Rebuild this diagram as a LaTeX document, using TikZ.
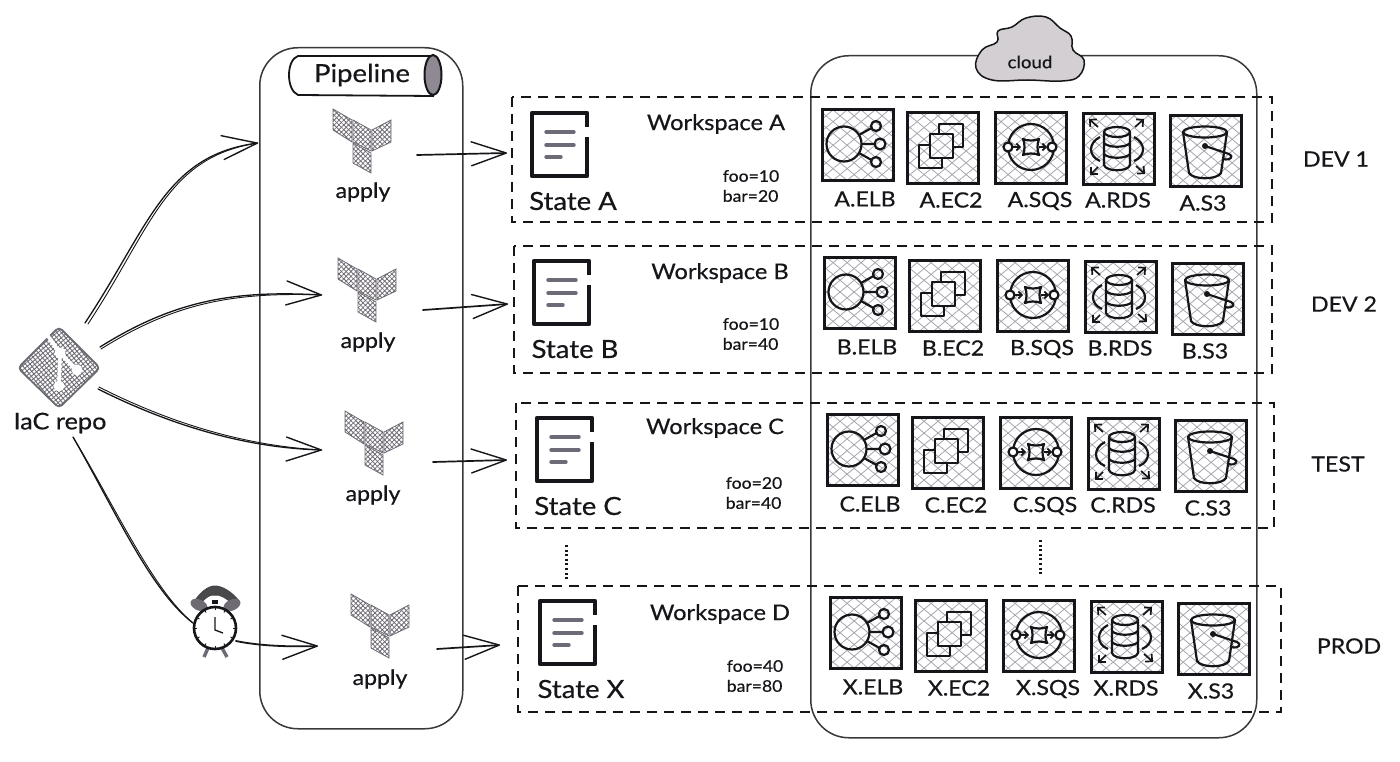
\documentclass[tikz,border=0pt]{standalone}
\usepackage{fontspec}
\setmainfont{Lato}[RawFeature={embolden=0.5},FakeStretch=1.1]
\usetikzlibrary{arrows.meta,patterns.meta,bending}
\definecolor{ink}{HTML}{16161A}
\definecolor{hatchc}{HTML}{A8A4AD}
\definecolor{logoc}{HTML}{6F6B74}
\definecolor{cloudc}{HTML}{D3CFD3}
\definecolor{cylc}{HTML}{8E8993}
\definecolor{statel}{HTML}{6E6A78}
\tikzset{
  txt/.style={inner sep=0pt,text=ink,font=\fontsize{21}{23}\selectfont},
  wstxt/.style={txt,font=\fontsize{21.5}{23}\selectfont},
  statetxt/.style={txt,font=\fontsize{25}{27}\selectfont},
  small/.style={inner sep=0pt,text=ink,align=left,font=\fontsize{16}{20}\selectfont},
  container/.style={draw=ink!85,line width=1.5pt,rounded corners=38pt},
  dashbox/.style={draw=ink,line width=1.2pt,dash pattern=on 10pt off 7pt},
  hatchbox/.style={draw=ink,line width=2.7pt,anchor=north west,minimum width=71pt,minimum height=71pt,inner sep=0pt,
    preaction={pattern={Lines[angle=40,distance=9pt,line width=.8pt]},pattern color=hatchc},
    preaction={pattern={Lines[angle=-40,distance=9pt,line width=.8pt]},pattern color=hatchc}},
  ico/.style={draw=ink,line width=2.2pt,line join=round},
  conn/.style={draw=ink,line width=1.3pt,line cap=round,-{Straight Barb[length=35pt,width=24pt,line width=1.4pt,round]}},
  sketch/.style={draw=ink,line width=.9pt,line cap=round},
  tffill/.style={draw=logoc,line width=.8pt,
    preaction={pattern={Lines[angle=45,distance=3.4pt,line width=.8pt]},pattern color=logoc},
    preaction={pattern={Lines[angle=-45,distance=3.4pt,line width=.8pt]},pattern color=logoc}},
  gitfill/.style={draw=logoc,line width=1.8pt,line join=round,
    preaction={pattern={Lines[angle=40,distance=3.4pt,line width=.9pt]},pattern color=logoc},
    preaction={pattern={Lines[angle=-50,distance=3.4pt,line width=.9pt]},pattern color=logoc}},
}
\newcommand{\tflogo}[3]{% name, x, y
  \begin{scope}[shift={(#2,#3)}]
    \coordinate (#1) at (19,30);
    \path[tffill] (0,0)--(19,11)--(19,33)--(0,21)--cycle;
    \path[tffill] (20,11)--(38,21)--(38,42)--(20,33)--cycle;
    \path[tffill] (39,21)--(58,11)--(58,33)--(39,42)--cycle;
    \path[tffill] (20,34)--(38,44)--(38,64)--(20,54)--cycle;
  \end{scope}}
\newcommand{\stateicon}{%
  \draw[draw=ink,line width=4.2pt,line join=round] (55,14)--(55,0)--(0,0)--(0,63)--(55,63)--(55,24);
  \draw[statel,line width=3.4pt,line cap=round] (14,19)--(42,19) (14,32)--(42,32) (14,44)--(29,44);}
\newcommand{\elbicon}{%
  \draw[ico] (23,36) circle (17.5);
  \draw[ico] (55,18) circle (5) (59,36) circle (5.5) (55,54) circle (5);
  \draw[ico] (38,27)--(50.5,20) (40.5,36)--(53.5,36) (38,45)--(50.5,52);}
\newcommand{\ectwoicon}{%
  \draw[ico] (33,23)--(33,13)--(57,13)--(57,36)--(47,36);
  \draw[ico] (24,34)--(13,34)--(13,57)--(36,57)--(36,47);
  \draw[ico] (24,23) rectangle (47,47);}
\newcommand{\sqsicon}{%
  \draw[ico] (37,36) circle (23);
  \draw[ico,fill=white] (14,36) circle (4.5) (58,36) circle (4.5);
  \draw[ico,line width=1.7pt,-{Straight Barb[length=3.5pt,width=7pt]}] (19,36)--(27,36);
  \draw[ico,line width=1.7pt,-{Straight Barb[length=3.5pt,width=7pt]}] (45,36)--(53,36);
  \draw[ico] (29,28) .. controls (33,30) and (41,30) .. (45,28) .. controls (43,32) and (43,40) .. (45,44) .. controls (41,42) and (33,42) .. (29,44) .. controls (31,40) and (31,32) .. (29,28) -- cycle;}
\newcommand{\rdsicon}{%
  \draw[ico] (35,20) ellipse (13 and 5);
  \draw[ico] (22,20)--(22,53) .. controls (24,60) and (46,60) .. (48,53)--(48,20);
  \draw[ico] (22,31) .. controls (26,36) and (44,36) .. (48,31);
  \draw[ico] (22,42) .. controls (26,47) and (44,47) .. (48,42);
  \draw[ico] (18,25) .. controls (6,31) and (6,44) .. (18,49);
  \draw[ico] (52,25) .. controls (64,31) and (64,44) .. (52,49);
  \foreach \a/\b/\c/\d in {16/15/7/7,53/15/62/7,16/55/8/63,54/54/63/62}
    \draw[ico,line width=1.7pt,-{Straight Barb[length=5pt,width=10pt]}] (\a,\b)--(\c,\d);}
\newcommand{\sssicon}{%
  \draw[ico] (36,18) ellipse (22 and 5.5);
  \draw[ico] (14,18)--(20,59) .. controls (24,66) and (48,66) .. (52,59)--(58,18);
  \fill[ink] (36,32) circle (3);
  \draw[ico] (36,32)--(60,40) .. controls (65,42) and (62,47) .. (54,45);}
\begin{document}
\begin{tikzpicture}[x=1pt,y=-1pt]
\useasboundingbox (0,0) rectangle (1400,762);
\fill[white] (0,0) rectangle (1400,762);

% containers
\node[container,anchor=north west,minimum width=203pt,minimum height=681pt,inner sep=0pt] (pipeline) at (259,47) {};
\node[container,anchor=north west,minimum width=446pt,minimum height=682pt,inner sep=0pt] (cloudbox) at (810,55) {};

% pipeline cylinder
\draw[ink,line width=1.8pt,fill=white] (433,56)--(298,56) .. controls (286,60) and (286,90) .. (298,95)--(434,96);
\draw[ink,line width=2pt,fill=cylc] (433,75) ellipse (8.5 and 20);
\node[txt,font=\fontsize{25}{27}\selectfont] (pipetxt) at (362,75) {Pipeline};

% cloud
\draw[ink,line width=1.5pt,fill=cloudc] plot[smooth cycle,tension=.7] coordinates {(992,80) (976,68) (982,50) (997,42) (998,31) (1012,27) (1026,18) (1046,17) (1060,28) (1071,36) (1073,50) (1084,60) (1079,76) (1062,81) (1028,80)};
\node[txt,font=\fontsize{17}{19}\selectfont] (cloudtxt) at (1030,62) {cloud};

% rows
\foreach \L/\dx/\dy in {A/0/0,B/2/148,C/5/305,X/8/488}{
  \begin{scope}[shift={(\dx,\dy)}]
    \begin{scope}[shift={(821,108)}]\node[hatchbox] (elb\L) at (0,0) {};\elbicon\end{scope}
    \begin{scope}[shift={(906,111)}]\node[hatchbox] (ectwo\L) at (0,0) {};\ectwoicon\end{scope}
    \begin{scope}[shift={(994,111)}]\node[hatchbox] (sqs\L) at (0,0) {};\sqsicon\end{scope}
    \begin{scope}[shift={(1082,112)}]\node[hatchbox] (rds\L) at (0,0) {};\rdsicon\end{scope}
    \begin{scope}[shift={(1169,114)}]\node[hatchbox] (sss\L) at (0,0) {};\sssicon\end{scope}
    \node[txt] (lelb\L) at (865,199) {\L.ELB};
    \node[txt] (lec\L) at (951,200) {\L.EC2};
    \node[txt] (lsqs\L) at (1040,201) {\L.SQS};
    \node[txt] (lrds\L) at (1118,200) {\L.RDS};
    \node[txt] (lsss\L) at (1203,203) {\L.S3};
    \begin{scope}[shift={(532,113)}]\stateicon\end{scope}
    \node[statetxt] (state\L) at (573,201) {State \L};
  \end{scope}
}
\node[wstxt] (wsA) at (716,124) {Workspace A};
\node[wstxt] (wsB) at (720,273) {Workspace B};
\node[wstxt] (wsC) at (715,428) {Workspace C};
\node[wstxt] (wsD) at (720,614) {Workspace D};
\node[small] (varA) at (751,186) {foo=10\\bar=20};
\node[small] (varB) at (751,334) {foo=10\\bar=40};
\node[small] (varC) at (754,493) {foo=20\\bar=40};
\node[small] (varD) at (755,676) {foo=40\\bar=80};

% dashed groups
\draw[dashbox] (512,97) rectangle (1272,222);
\draw[dashbox] (514,246) rectangle (1272,373);
\draw[dashbox] (516,403) rectangle (1274,528);
\draw[dashbox] (518,586) rectangle (1281,712);

% row names
\node[txt] (dev1) at (1336,159) {DEV 1};
\node[txt] (dev2) at (1344,304) {DEV 2};
\node[txt] (test) at (1338,464) {TEST};
\node[txt] (prod) at (1349,646) {PROD};

% ellipses
\draw[ink,line width=3pt,dash pattern=on 2pt off 2.6pt] (566,545)--(566,579);
\draw[ink,line width=3pt,dash pattern=on 2pt off 2.6pt] (1040,540)--(1040,574);

% terraform logos
\tflogo{tfa}{333}{109}
\tflogo{tfb}{338}{258}
\tflogo{tfc}{345}{411}
\tflogo{tfd}{351}{594}
\node[txt] (applyA) at (363,192) {apply};
\node[txt] (applyB) at (368,342) {apply};
\node[txt] (applyC) at (373,495) {apply};
\node[txt] (applyD) at (380,679) {apply};

% git repo
\path[gitfill,rounded corners=4pt] (59,327)--(100,368)--(59,408)--(18,368)--cycle;
\draw[white,line width=3.6pt] (48,336)--(60,353)--(59,386) (60,353)--(77,370);
\fill[white] (60,353) circle (5.5) (77,370) circle (5.5) (59,386) circle (5.5);
\coordinate (repo) at (59,368);
\node[txt,font=\fontsize{23}{25}\selectfont] (repotxt) at (60,423) {IaC repo};

% clock
\coordinate (clock) at (215,628);
\draw[logoc,line width=3.4pt] (208,648)--(204,657) (222,648)--(227,657);
\draw[ink!80,line width=1pt,fill=ink!78] (192,605) .. controls (200,592) and (208,586) .. (215,586) .. controls (222,586) and (232,592) .. (239,601) -- (233,604) .. controls (226,598) and (220,594) .. (215,595) .. controls (210,594) and (204,598) .. (197,608) -- cycle;
\fill[logoc,rotate around={-25:(199,605)}] (199,605) ellipse (9 and 5.5);
\fill[logoc,rotate around={25:(232,605)}] (232,605) ellipse (9 and 5.5);
\draw[ink,line width=2.6pt,fill=white] (215,628) circle (21);
\fill[ink] (212,600) rectangle (218,604);
\foreach \ang in {0,30,...,330}
  \draw[ink,line width=.9pt] (215,628) ++(\ang:20.5) -- ++(\ang:-2.6);
\draw[ink,line width=1.3pt] (215,617)--(215,630)--(223,633);

% connectors
\coordinate (a1) at (85,323);
\coordinate (b1) at (100,347);
\coordinate (c1) at (98,389);
\coordinate (d1) at (73,437);
\coordinate (d2) at (193,623);
\coordinate (d3) at (236,641);
\coordinate (a2) at (258,143);
\coordinate (b2) at (322,295);
\coordinate (c2) at (322,450);
\coordinate (dd) at (318,646);
\draw[conn] (a1) .. controls (150,225) and (165,155) .. (a2);
\draw[sketch] (a1) ++(3,1) .. controls (152,227) and (166,157) .. (a2);
\draw[conn] (b1) .. controls (175,300) and (235,290) .. (b2);
\draw[sketch] (b1) ++(1,2) .. controls (176,302) and (235,292) .. (b2);
\draw[conn] (c1) .. controls (170,425) and (245,448) .. (c2);
\draw[sketch] (c1) ++(1,-2) .. controls (170,423) and (245,446) .. (c2);
\draw[ink,line width=1.3pt] (d1) .. controls (115,510) and (150,590) .. (d2);
\draw[sketch] (d1) ++(0,0) .. controls (117,510) and (153,590) .. (d2);
\draw[conn,line width=1.8pt] (d3) .. controls (260,646) and (290,647) .. (dd);
\coordinate (sa) at (417,155); \coordinate (ea) at (507,153);
\coordinate (sb) at (423,310); \coordinate (eb) at (508,304);
\coordinate (sc) at (433,462); \coordinate (ec) at (507,460);
\coordinate (sd) at (437,649); \coordinate (ed) at (500,645);
\draw[conn,line width=1.7pt] (sa)--(ea);
\draw[conn,line width=1.7pt] (sb)--(eb);
\draw[conn,line width=1.7pt] (sc)--(ec);
\draw[conn,line width=1.7pt] (sd)--(ed);
\end{tikzpicture}
\end{document}
